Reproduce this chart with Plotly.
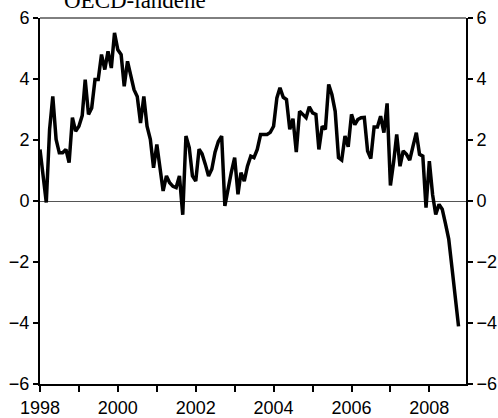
import pandas as pd
import plotly.graph_objects as go

# monthly series, Jan 1998 - Oct 2008
start_month = "1998-01-01"
values = [
    1.69, 0.85, -0.05, 2.35, 3.43, 2.02, 1.58, 1.58, 1.69, 1.26, 2.73, 2.29,
    2.45, 2.8, 3.98, 2.84, 3.05, 3.98, 3.98, 4.80, 4.31, 4.91, 4.36, 5.51,
    4.96, 4.80, 3.76, 4.58, 4.09, 3.65, 3.43, 2.56, 3.43, 2.45, 2.02, 1.09,
    1.85, 1.04, 0.33, 0.82, 0.60, 0.48, 0.44, 0.82, -0.45, 2.13, 1.75, 0.82,
    0.65, 1.70, 1.55, 1.20, 0.82, 1.05, 1.60, 1.95, 2.13, -0.16, 0.45, 0.95,
    1.42, 0.22, 0.93, 0.65, 1.14, 1.47, 1.42, 1.69, 2.18, 2.18, 2.18, 2.25,
    2.45, 3.38, 3.71, 3.40, 3.33, 2.35, 2.70, 1.60, 2.94, 2.84, 2.73, 3.09,
    2.89, 2.84, 1.69, 2.45, 2.35, 3.82, 3.49, 2.94, 1.42, 1.34, 2.13, 1.78,
    2.84, 2.50, 2.67, 2.73, 2.74, 1.64, 1.39, 2.43, 2.43, 2.78, 2.24, 3.20,
    0.51, 1.30, 2.18, 1.14, 1.64, 1.53, 1.34, 1.80, 2.24, 1.53, 1.47, -0.22,
    1.31, 0.20, -0.44, -0.11, -0.27, -0.75, -1.25, -2.20, -3.15, -4.11,
]
years = list(range(1998, 2009))
year_labels = [str(y) if y % 2 == 0 else "" for y in years]
y_ticks = [-6, -4, -2, 0, 2, 4, 6]
title_text = "OECD-landene"

months = pd.date_range(start_month, periods=len(values), freq="MS")
tick_dates = [f"{y}-01-01" for y in years]
x_range = ["1998-01-01", "2008-12-10"]

tick_font = dict(family="Liberation Sans, Arial, sans-serif", size=18, color="black")

fig = go.Figure()
fig.add_trace(
    go.Scatter(
        x=months,
        y=values,
        mode="lines",
        line=dict(color="black", width=3.5),
        showlegend=False,
    )
)
# empty trace so the right-hand axis gets drawn
fig.add_trace(go.Scatter(x=[None], y=[None], yaxis="y2", showlegend=False))

fig.update_layout(
    template="none",
    width=498,
    height=418,
    margin=dict(l=40, r=32, t=18, b=34, autoexpand=False),
    paper_bgcolor="white",
    plot_bgcolor="white",
    xaxis=dict(
        type="date",
        range=x_range,
        tickvals=tick_dates,
        ticktext=year_labels,
        ticks="outside",
        ticklen=6,
        tickwidth=1.5,
        tickcolor="black",
        showline=True,
        linecolor="black",
        linewidth=2,
        showgrid=False,
        zeroline=False,
        automargin=False,
        tickfont=tick_font,
    ),
    xaxis2=dict(
        type="date",
        range=x_range,
        overlaying="x",
        side="bottom",
        anchor="y",
        tickvals=tick_dates,
        showticklabels=False,
        ticks="inside",
        ticklen=4,
        tickwidth=1.5,
        tickcolor="black",
        showgrid=False,
        zeroline=False,
        automargin=False,
    ),
    yaxis=dict(
        range=[-6, 6],
        tickvals=y_ticks,
        ticks="outside",
        ticklen=5,
        tickwidth=1.5,
        tickcolor="black",
        showline=True,
        linecolor="black",
        linewidth=2,
        showgrid=False,
        zeroline=True,
        zerolinecolor="#555555",
        zerolinewidth=1,
        automargin=False,
        tickfont=tick_font,
    ),
    yaxis2=dict(
        range=[-6, 6],
        tickvals=y_ticks,
        overlaying="y",
        side="right",
        ticks="outside",
        ticklen=5,
        tickwidth=1.5,
        tickcolor="black",
        showline=True,
        linecolor="black",
        linewidth=2,
        showgrid=False,
        zeroline=False,
        automargin=False,
        tickfont=tick_font,
    ),
    shapes=[
        dict(
            type="line", xref="paper", yref="paper",
            x0=0, x1=1, y0=1, y1=1,
            line=dict(color="black", width=1),
        )
    ],
    annotations=[
        dict(
            text=title_text,
            xref="paper", yref="paper",
            x=0.223, y=1.007,
            xanchor="center", yanchor="bottom",
            showarrow=False,
            font=dict(family="Liberation Serif, Times New Roman, serif", size=23, color="black"),
        )
    ],
)

# drop the browser's default body margin so the figure sits at the page corner
fig.write_html(
    "out.html",
    config={"displayModeBar": False},
    post_script="document.body.style.margin = '0';",
)
